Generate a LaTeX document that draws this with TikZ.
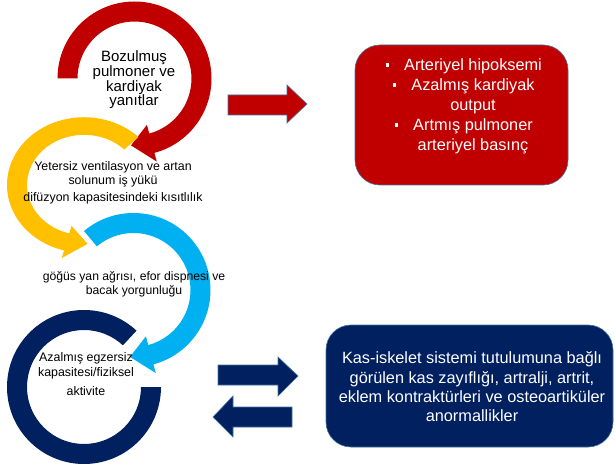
\documentclass[tikz,border=0pt]{standalone}
\usepackage{fontspec}
\setmainfont{Liberation Sans}
\usetikzlibrary{calc,math}

\definecolor{ringred}{HTML}{C00000}
\definecolor{ringyellow}{HTML}{FFC000}
\definecolor{ringblue}{HTML}{00B0F0}
\definecolor{ringnavy}{HTML}{002060}
\definecolor{edgeblue}{HTML}{41719C}

\tikzset{
  ringtext/.style={align=center, inner sep=0pt, text=black},
  boxtext/.style={align=center, inner sep=0pt, text=white},
  blockarrow/.style={draw=edgeblue, line width=0.6pt},
  bluebox/.style={draw=edgeblue, line width=0.6pt, rounded corners=25pt}
}
\newcommand{\bul}{\llap{\rule[0.22em]{3.5pt}{3.5pt}\hspace{15pt}}}

\begin{document}
\begin{tikzpicture}[x=1pt,y=1pt]
  \useasboundingbox (0,0) rectangle (615,466);
  \tikzmath{
    real \ro; real \ri; real \rm; real \hi; real \ho;
    \ro = 77; \ri = 57; \rm = 67; \hi = 48; \ho = 86;
  }

  \foreach \cx/\cy/\ys/\a/\b/\t/\col in {
      134.5/387.5/1/180/-75/-93/ringred,
      84/281/0.88/45/255/273/ringyellow,
      133.5/176/1/130/-75/-93/ringblue} {
    \begin{scope}[shift={(\cx,\cy)}, yscale=\ys]
      \fill[\col] (\a:\ro) arc[start angle=\a, end angle=\b, radius=\ro]
        -- (\b:\ho) -- (\t:\rm) -- (\b:\hi) -- (\b:\ri)
        arc[start angle=\b, end angle=\a, radius=\ri] -- cycle;
    \end{scope}
  }
  \begin{scope}[shift={(84,79)}]
    \fill[ringnavy] (47:\ro) arc[start angle=47, end angle=360, radius=\ro]
      -- (0:\ri) arc[start angle=360, end angle=47, radius=\ri] -- cycle;
  \end{scope}

  \node[ringtext, font=\fontsize{15}{14.7}\selectfont] (bozulmus) at (134,386)
    {Bozulmuş\\pulmoner ve\\kardiyak\\yanıtlar};
  \node[ringtext, font=\fontsize{12.4}{14}\selectfont] (yetersiz) at (113,292)
    {Yetersiz ventilasyon ve artan\\solunum iş yükü};
  \node[ringtext, font=\fontsize{12.4}{14}\selectfont] (difuzyon) at (113,268)
    {difüzyon kapasitesindeki kısıtlılık};
  \node[ringtext, font=\fontsize{12.2}{13.5}\selectfont] (gogus) at (134,181.5)
    {göğüs yan ağrısı, efor dispnesi ve\\bacak yorgunluğu};
  \node[ringtext, font=\fontsize{12.4}{15}\selectfont] (azalmis) at (86,100.5)
    {Azalmış egzersiz\\kapasitesi/fiziksel};
  \node[ringtext, font=\fontsize{12.4}{15}\selectfont] (aktivite) at (86,75)
    {aktivite};

  \draw[blockarrow, fill=ringred] (228,371) -- (287,371) -- (287,381) -- (307,362)
    -- (287,343) -- (287,351) -- (228,351) -- cycle;
  \draw[bluebox, fill=ringred] (355,281) rectangle (568,421);
  \node[boxtext, font=\fontsize{16.3}{20}\selectfont] (bulgular) at (473,360)
    {\bul Arteriyel hipoksemi\\\bul Azalmış kardiyak\\output\\\bul Artmış pulmoner\\arteriyel basınç};

  \draw[blockarrow, fill=ringnavy] (218,101) -- (278,101) -- (278,109) -- (298,90)
    -- (278,70) -- (278,81) -- (218,81) -- cycle;
  \draw[blockarrow, fill=ringnavy] (292,59) -- (233,59) -- (233,70) -- (213,49)
    -- (233,29) -- (233,39) -- (292,39) -- cycle;
  \draw[bluebox, fill=ringnavy] (326,19) rectangle (613,141);
  \node[boxtext, font=\fontsize{16.3}{19.3}\selectfont] (kasiskelet) at (472,79)
    {Kas-iskelet sistemi tutulumuna bağlı\\görülen kas zayıflığı, artralji, artrit,\\eklem kontraktürleri ve osteoartiküler\\anormallikler};
\end{tikzpicture}
\end{document}
